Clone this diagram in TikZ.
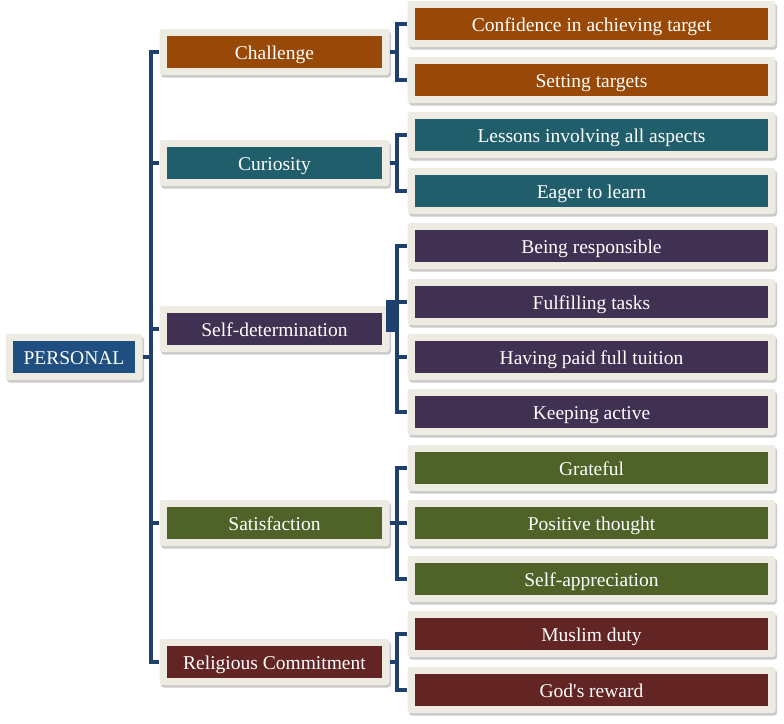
\documentclass[tikz,border=0pt]{standalone}
\usepackage{fontspec}
\setmainfont{Liberation Serif}
\usetikzlibrary{shadows}
\definecolor{cream}{HTML}{EEEBE2}
\definecolor{navy}{HTML}{1F3F6E}
\definecolor{cPers}{HTML}{1F4E80}
\definecolor{cChal}{HTML}{984807}
\definecolor{cCur}{HTML}{215E6C}
\definecolor{cSelf}{HTML}{403152}
\definecolor{cSat}{HTML}{4F6228}
\definecolor{cRel}{HTML}{632523}
\tikzset{
  outerbox/.style={fill=cream, rounded corners=3pt, minimum height=46pt, inner sep=0pt,
    drop shadow={shadow xshift=1.5pt, shadow yshift=-2.5pt, fill=black!35, opacity=0.6}},
  innerbox/.style={minimum height=32pt, inner sep=0pt, text=white,
    font=\fontsize{19.5}{22}\selectfont, text height=14pt, text depth=0pt},
  conn/.style={draw=navy, line width=4.5pt, line join=miter, line cap=butt}
}
\newcommand\mybox[6]{%
  \node[outerbox, minimum width=#4+15pt] (#1) at (#2,#3) {};
  \node[innerbox, fill=#5, minimum width=#4] at (#2,#3) {#6};
}
\begin{document}
\begin{tikzpicture}[x=1pt,y=-1pt]
\useasboundingbox (0,0) rectangle (784,723);
\coordinate (t) at (151,0);
\coordinate (bt) at (397,0);
% level 0
\mybox{P}{74}{357}{122pt}{cPers}{PERSONAL}
% level 1
\mybox{c1}{274.5}{52}{215pt}{cChal}{Challenge}
\mybox{c2}{274.5}{163}{215pt}{cCur}{Curiosity}
\mybox{c3}{274.5}{329}{215pt}{cSelf}{Self-determination}
\mybox{c4}{274.5}{523}{215pt}{cSat}{Satisfaction}
\mybox{c5}{274.5}{662}{215pt}{cRel}{Religious Commitment}
% level 2
\mybox{a1}{591.5}{24}{353pt}{cChal}{Confidence in achieving target}
\mybox{a2}{591.5}{80}{353pt}{cChal}{Setting targets}
\mybox{b1}{591.5}{135}{353pt}{cCur}{Lessons involving all aspects}
\mybox{b2}{591.5}{191}{353pt}{cCur}{Eager to learn}
\mybox{d1}{591.5}{246}{353pt}{cSelf}{Being responsible}
\mybox{d2}{591.5}{302}{353pt}{cSelf}{Fulfilling tasks}
\mybox{d3}{591.5}{357}{353pt}{cSelf}{Having paid full tuition}
\mybox{d4}{591.5}{412}{353pt}{cSelf}{Keeping active}
\mybox{e1}{591.5}{468}{353pt}{cSat}{Grateful}
\mybox{e2}{591.5}{523}{353pt}{cSat}{Positive thought}
\mybox{e3}{591.5}{579}{353pt}{cSat}{Self-appreciation}
\mybox{f1}{591.5}{634}{353pt}{cRel}{Muslim duty}
\mybox{f2}{591.5}{690}{353pt}{cRel}{God\textquotesingle s reward}
% trunk
\path[conn] (P.east) -- (P.east -| t);
\path[conn] (c1.west) -- (c1.west -| t) -- (c5.west -| t) -- (c5.west);
\foreach \n in {c2,c3,c4} \path[conn] (\n.west) -- (\n.west -| t);
% brackets
\foreach \p/\a/\b in {c1/a1/a2, c2/b1/b2, c3/d1/d4, c4/e1/e3, c5/f1/f2}{
  \path[conn] (\p.east) -- (\p.east -| bt);
  \path[conn] (\a.west) -- (\a.west -| bt) -- (\b.west -| bt) -- (\b.west);
}
\foreach \n in {d2,d3,e2} \path[conn] (\n.west) -- (\n.west -| bt);
\fill[navy] (386,300) rectangle (398,332);
\end{tikzpicture}
\end{document}
